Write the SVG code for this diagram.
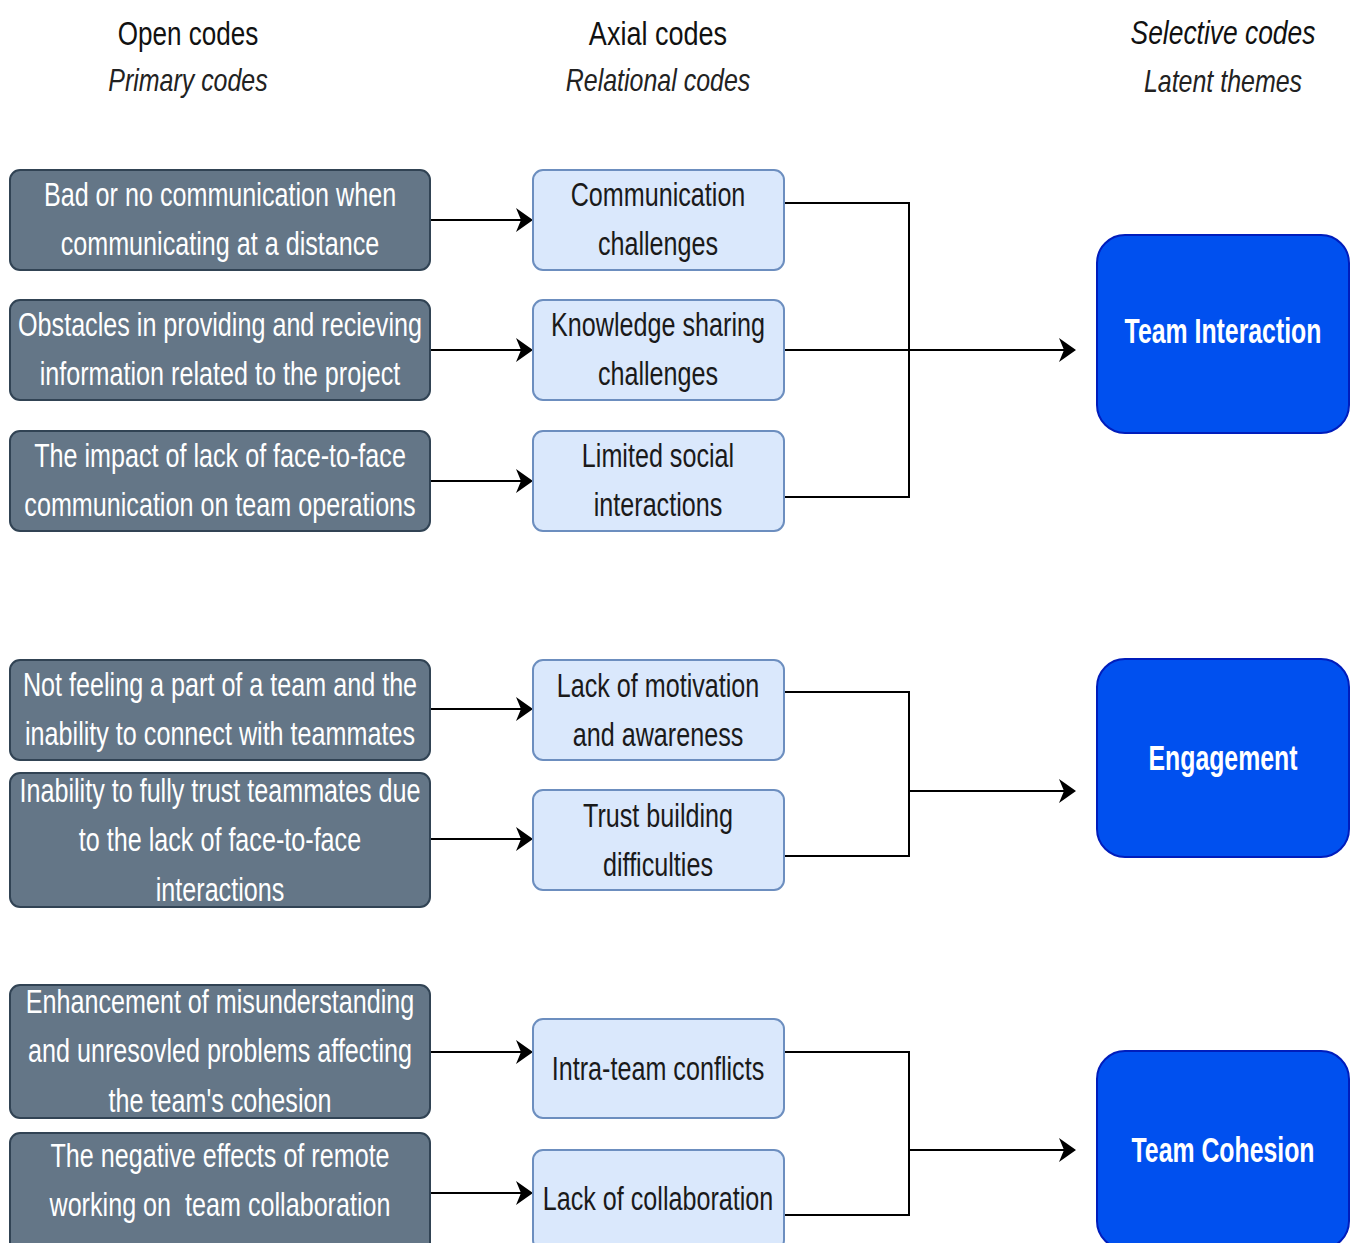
<svg xmlns="http://www.w3.org/2000/svg" width="1354" height="1243" viewBox="0 0 1354 1243">
<style>
text{font-family:"Liberation Sans",Arial,sans-serif;text-anchor:middle}
.hd{font-size:33px;fill:#111}
.hs{font-size:32px;font-style:italic;fill:#222}
.open rect{fill:#647687;stroke:#314354;stroke-width:2}
.open text{fill:#fff;font-size:34px}
.axial rect{fill:#dae8fc;stroke:#6c8ebf;stroke-width:2}
.axial text{fill:#1a1a1a;font-size:34px}
.sel rect{fill:#0050ef;stroke:#001dbc;stroke-width:2}
.sel text{fill:#fff;font-size:36px;font-weight:bold}
.c path{fill:none;stroke:#000;stroke-width:2}
</style>
<defs>
<marker id="ar" viewBox="0 0 17 24" refX="13" refY="12" markerWidth="17" markerHeight="24" markerUnits="userSpaceOnUse" orient="auto">
<path d="M0,0 L17,12 L0,24 L5,12 Z" fill="#000"/>
</marker>
</defs>
<rect width="1354" height="1243" fill="#fff"/>

<g id="headers">
<text class="hd" transform="translate(188,45) scale(0.79,1)">Open codes</text>
<text class="hs" transform="translate(188,91) scale(0.78,1)">Primary codes</text>
<text class="hd" transform="translate(658,45) scale(0.82,1)">Axial codes</text>
<text class="hs" transform="translate(658,91) scale(0.78,1)">Relational codes</text>
<text class="hd" transform="translate(1223,44) scale(0.8,1)" font-style="italic">Selective codes</text>
<text class="hs" transform="translate(1223,92) scale(0.78,1)">Latent themes</text>
</g>

<g class="c" id="connectors">
<path d="M430,220 H529" marker-end="url(#ar)"/>
<path d="M430,350 H529" marker-end="url(#ar)"/>
<path d="M430,481 H529" marker-end="url(#ar)"/>
<path d="M430,709 H529" marker-end="url(#ar)"/>
<path d="M430,839 H529" marker-end="url(#ar)"/>
<path d="M430,1052 H529" marker-end="url(#ar)"/>
<path d="M430,1193 H529" marker-end="url(#ar)"/>
<path d="M784,203 H909 V497 H784"/>
<path d="M784,350 H1072" marker-end="url(#ar)"/>
<path d="M784,692 H909 V856 H784"/>
<path d="M909,791 H1072" marker-end="url(#ar)"/>
<path d="M784,1052 H909 V1215 H784"/>
<path d="M909,1150 H1072" marker-end="url(#ar)"/>
</g>

<g id="open1" class="open"><rect x="10" y="170" width="420" height="100" rx="10"/>
<text transform="translate(220,206) scale(0.74,1)"><tspan x="0">Bad or no communication when</tspan><tspan x="0" dy="49.5">communicating at a distance</tspan></text></g>
<g id="open2" class="open"><rect x="10" y="300" width="420" height="100" rx="10"/>
<text transform="translate(220,336) scale(0.74,1)"><tspan x="0">Obstacles in providing and recieving</tspan><tspan x="0" dy="49.5">information related to the project</tspan></text></g>
<g id="open3" class="open"><rect x="10" y="431" width="420" height="100" rx="10"/>
<text transform="translate(220,467) scale(0.74,1)"><tspan x="0">The impact of lack of face-to-face</tspan><tspan x="0" dy="49.5">communication on team operations</tspan></text></g>
<g id="open4" class="open"><rect x="10" y="660" width="420" height="100" rx="10"/>
<text transform="translate(220,696) scale(0.74,1)"><tspan x="0">Not feeling a part of a team and the</tspan><tspan x="0" dy="49.5">inability to connect with teammates</tspan></text></g>
<g id="open5" class="open"><rect x="10" y="773" width="420" height="134" rx="10"/>
<text transform="translate(220,802) scale(0.74,1)"><tspan x="0">Inability to fully trust teammates due</tspan><tspan x="0" dy="49.5">to the lack of face-to-face</tspan><tspan x="0" dy="49.5">interactions</tspan></text></g>
<g id="open6" class="open"><rect x="10" y="985" width="420" height="133" rx="10"/>
<text transform="translate(220,1013) scale(0.74,1)"><tspan x="0">Enhancement of misunderstanding</tspan><tspan x="0" dy="49.5">and unresovled problems affecting</tspan><tspan x="0" dy="49.5">the team's cohesion</tspan></text></g>
<g id="open7" class="open"><rect x="10" y="1133" width="420" height="122" rx="10"/>
<text transform="translate(220,1167) scale(0.74,1)" style="white-space:pre"><tspan x="0">The negative effects of remote</tspan><tspan x="0" dy="49.5">working on  team collaboration</tspan></text></g>

<g id="axial1" class="axial"><rect x="533" y="170" width="251" height="100" rx="10"/>
<text transform="translate(658,206) scale(0.74,1)"><tspan x="0">Communication</tspan><tspan x="0" dy="49.5">challenges</tspan></text></g>
<g id="axial2" class="axial"><rect x="533" y="300" width="251" height="100" rx="10"/>
<text transform="translate(658,336) scale(0.74,1)"><tspan x="0">Knowledge sharing</tspan><tspan x="0" dy="49.5">challenges</tspan></text></g>
<g id="axial3" class="axial"><rect x="533" y="431" width="251" height="100" rx="10"/>
<text transform="translate(658,467) scale(0.74,1)"><tspan x="0">Limited social</tspan><tspan x="0" dy="49.5">interactions</tspan></text></g>
<g id="axial4" class="axial"><rect x="533" y="660" width="251" height="100" rx="10"/>
<text transform="translate(658,697) scale(0.74,1)"><tspan x="0">Lack of motivation</tspan><tspan x="0" dy="49.5">and awareness</tspan></text></g>
<g id="axial5" class="axial"><rect x="533" y="790" width="251" height="100" rx="10"/>
<text transform="translate(658,827) scale(0.74,1)"><tspan x="0">Trust building</tspan><tspan x="0" dy="49.5">difficulties</tspan></text></g>
<g id="axial6" class="axial"><rect x="533" y="1019" width="251" height="99" rx="10"/>
<text transform="translate(658,1080) scale(0.74,1)">Intra-team conflicts</text></g>
<g id="axial7" class="axial"><rect x="533" y="1150" width="251" height="100" rx="10"/>
<text transform="translate(658,1210) scale(0.74,1)">Lack of collaboration</text></g>

<g id="theme1" class="sel"><rect x="1097" y="235" width="252" height="198" rx="28"/>
<text transform="translate(1223,343) scale(0.69,1)">Team Interaction</text></g>
<g id="theme2" class="sel"><rect x="1097" y="659" width="252" height="198" rx="28"/>
<text transform="translate(1223,770) scale(0.69,1)">Engagement</text></g>
<g id="theme3" class="sel"><rect x="1097" y="1051" width="252" height="198" rx="28"/>
<text transform="translate(1223,1162) scale(0.69,1)">Team Cohesion</text></g>
</svg>
